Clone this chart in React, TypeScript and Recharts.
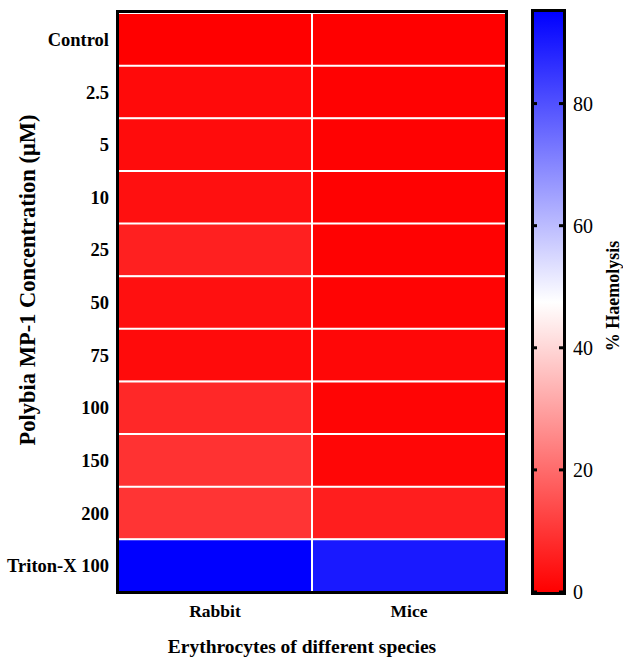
import React from 'react';
import { BarChart, Bar, XAxis, YAxis, Cell } from 'recharts';

const concentrations = ['Control', '2.5', '5', '10', '25', '50', '75', '100', '150', '200', 'Triton-X 100'];
const species = ['Rabbit', 'Mice'];
const rabbitValues = [0, 1.9, 2.2, 3, 6, 3, 2, 7.5, 9.3, 9.7, 95];
const miceValues = [0, 0.3, 0.4, 0.4, 0.3, 0.8, 1.3, 1.0, 1.2, 5.5, 90.3];
const scaleMax = 95;
const scaleTicks = [0, 20, 40, 60, 80];

const FONT = '"Liberation Serif", "Times New Roman", serif';

// red -> white -> blue, white at the middle of the scale
const heatColor = (v: number) => {
  const t = Math.max(0, Math.min(1, v / scaleMax));
  if (t < 0.5) {
    const c = Math.round(255 * t * 2);
    return `rgb(255,${c},${c})`;
  }
  const c = Math.round(255 * (2 - 2 * t));
  return `rgb(${c},${c},255)`;
};

const rows = concentrations.map((name, i) => ({
  name,
  Rabbit: 1,
  Mice: 1,
  rabbitValue: rabbitValues[i],
  miceValue: miceValues[i],
}));

const scaleData = [{ name: 'scale', value: scaleMax }];

// colorbar tick: small marks inside both edges of the bar, label outside
const ScaleTick = (props: any) => {
  const { y, payload } = props;
  return (
    <g>
      <rect x={533} y={y - 1.5} width={4} height={3} fill="#000" />
      <rect x={559} y={y - 1.5} width={4} height={3} fill="#000" />
      <text x={573} y={y} dy={7} fontSize={20} fontFamily={FONT} fill="#000">{payload.value}</text>
    </g>
  );
};

export default function App() {
  return (
    <div style={{ position: 'absolute', left: 0, top: 0, width: 623, height: 662, background: '#fff', fontFamily: FONT }}>
      <div style={{ position: 'absolute', left: 0, top: 0 }}>
        <BarChart
          width={507}
          height={630}
          data={rows}
          layout="vertical"
          barCategoryGap={0}
          margin={{ top: 13, right: 1, bottom: 0, left: 0 }}
        >
          <XAxis
            type="number"
            domain={[0, 2]}
            ticks={[0.5, 1.5]}
            tickFormatter={(v: number) => species[Math.floor(v)]}
            axisLine={false}
            tickLine={false}
            height={38}
            tickMargin={7}
            tick={{ fontSize: 17.5, fontWeight: 'bold', fill: '#000', fontFamily: FONT }}
            interval={0}
          />
          <YAxis
            type="category"
            dataKey="name"
            axisLine={false}
            tickLine={false}
            width={118}
            tickMargin={3}
            interval={0}
            tick={{ fontSize: 18.5, fontWeight: 'bold', fill: '#000', fontFamily: FONT }}
          />
          <Bar dataKey="Rabbit" stackId="a" stroke="#fff" strokeWidth={2} isAnimationActive={false}>
            {rows.map((r, i) => (
              <Cell key={`r-${i}`} fill={heatColor(r.rabbitValue)} />
            ))}
          </Bar>
          <Bar dataKey="Mice" stackId="a" stroke="#fff" strokeWidth={2} isAnimationActive={false}>
            {rows.map((r, i) => (
              <Cell key={`m-${i}`} fill={heatColor(r.miceValue)} />
            ))}
          </Bar>
        </BarChart>
      </div>
      {/* heatmap frame */}
      <div style={{ position: 'absolute', left: 116, top: 10, width: 386, height: 578, border: '3px solid #000' }} />

      <div style={{ position: 'absolute', left: 0, top: 0 }}>
        <BarChart
          width={623}
          height={630}
          data={scaleData}
          barCategoryGap={0}
          margin={{ top: 12, right: 0, bottom: 38, left: 532 }}
        >
          <defs>
            <linearGradient id="haemo" x1="0" y1="1" x2="0" y2="0">
              <stop offset="0%" stopColor="#ff0000" />
              <stop offset="50%" stopColor="#ffffff" />
              <stop offset="100%" stopColor="#0000ff" />
            </linearGradient>
          </defs>
          <XAxis dataKey="name" hide />
          <YAxis
            type="number"
            orientation="right"
            domain={[0, scaleMax]}
            ticks={scaleTicks}
            axisLine={false}
            tickLine={false}
            width={58}
            tick={<ScaleTick />}
          />
          <Bar dataKey="value" fill="url(#haemo)" isAnimationActive={false} />
        </BarChart>
      </div>
      {/* colorbar frame */}
      <div style={{ position: 'absolute', left: 531, top: 9, width: 29, height: 580, border: '3px solid #000' }} />

      <div style={{ position: 'absolute', left: 28, top: 280, transform: 'translate(-50%, -50%) rotate(-90deg)', whiteSpace: 'nowrap', fontSize: 22.5, fontWeight: 'bold', color: '#000' }}>
        Polybia MP-1 Concentration (μM)
      </div>
      <div style={{ position: 'absolute', left: 302, top: 647, transform: 'translate(-50%, -50%)', whiteSpace: 'nowrap', fontSize: 19.5, fontWeight: 'bold', color: '#000' }}>
        Erythrocytes of different species
      </div>
      <div style={{ position: 'absolute', left: 613, top: 296, transform: 'translate(-50%, -50%) rotate(-90deg)', whiteSpace: 'nowrap', lineHeight: 1, fontSize: 18, fontWeight: 'bold', color: '#000' }}>
        % Haemolysis
      </div>
    </div>
  );
}
